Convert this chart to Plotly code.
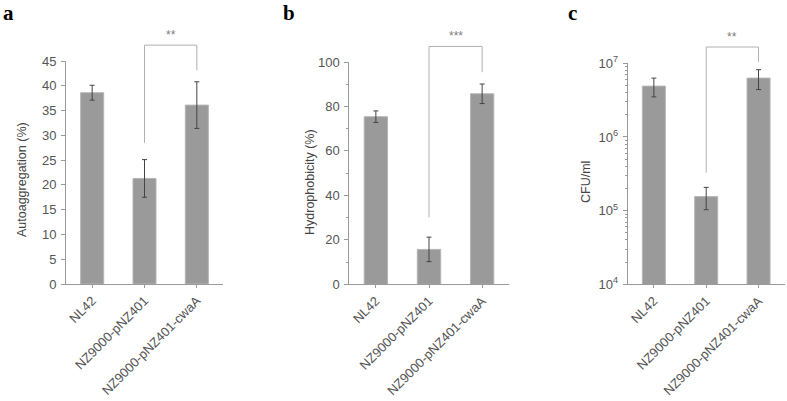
import plotly.graph_objects as go
import math

categories = ["NL42", "NZ9000-pNZ401", "NZ9000-pNZ401-cwaA"]

auto_vals = [38.6, 21.3, 36.1]
auto_err = [1.5, 3.8, 4.7]

hydro_vals = [75.4, 15.7, 85.7]
hydro_err = [2.6, 5.5, 4.4]

cfu_vals = [4.9e6, 1.55e5, 6.3e6]
cfu_err = [1.4e6, 0.52e5, 1.9e6]

auto_ticks = [0, 5, 10, 15, 20, 25, 30, 35, 40, 45]
hydro_ticks = [0, 20, 40, 60, 80, 100]
cfu_ticks = [1e4, 1e5, 1e6, 1e7]
cfu_ticklabels = ["10<sup>4</sup>", "10<sup>5</sup>", "10<sup>6</sup>", "10<sup>7</sup>"]

# significance brackets: (left cat idx, right cat idx, left leg bottom, right leg bottom, top, label)
sig_a = (1, 2, 28.5, 43.1, 48.2, "**")
sig_b = (1, 2, 30.1, 95.4, 107.0, "***")
sig_c = (1, 2, 10 ** 5.516, 10 ** 7.02, 10 ** 7.221, "**")

BAR = "#9a9a9a"
AX = "#9a9a9a"
TXT = "#555555"
FONT = "Liberation Sans, Arial, sans-serif"

fig = go.Figure()

panels = [
    dict(vals=auto_vals, err=auto_err, xd=[66 / 787, 223 / 787], yd=[(401 - 284) / 401, (401 - 61) / 401],
         ticks=auto_ticks, rng=[0, 45], log=False, title="Autoaggregation (%)", tx=22, ty=180,
         letter="a", lx=8, sig=sig_a),
    dict(vals=hydro_vals, err=hydro_err, xd=[349.3 / 787, 508.7 / 787], yd=[(401 - 284.3) / 401, (401 - 62) / 401],
         ticks=hydro_ticks, rng=[0, 100], log=False, title="Hydrophobicity (%)", tx=310, ty=182,
         letter="b", lx=289, sig=sig_b),
    dict(vals=cfu_vals, err=cfu_err, xd=[627.7 / 787, 784.7 / 787], yd=[(401 - 284.3) / 401, (401 - 63.3) / 401],
         ticks=cfu_ticks, rng=[4, 7], log=True, title="CFU/ml", tx=586, ty=182,
         letter="c", lx=572, sig=sig_c),
]

for i, p in enumerate(panels):
    n = "" if i == 0 else str(i + 1)
    fig.add_trace(go.Bar(
        x=categories, y=p["vals"], xaxis="x" + n, yaxis="y" + n,
        width=0.44, marker=dict(color=BAR, line=dict(color="#b5b5b5", width=1)),
        error_y=dict(type="data", array=p["err"], visible=True, color="#444444", thickness=1, width=2.5),
        showlegend=False, hoverinfo="skip",
    ))
    xa = dict(domain=p["xd"], anchor="y" + n, showline=True, linecolor=AX, linewidth=1,
              ticks="outside", ticklen=3, tickcolor=AX, tickangle=-45, automargin=False,
              tickfont=dict(family=FONT, size=13, color=TXT), range=[-0.5, 2.5],
              showgrid=False, zeroline=False, fixedrange=True)
    ya = dict(domain=p["yd"], anchor="x" + n, showline=True, linecolor=AX, linewidth=1,
              ticks="outside", ticklen=4, tickcolor=AX, ticklabelstandoff=2, automargin=False,
              tickfont=dict(family=FONT, size=13, color=TXT), fixedrange=True,
              showgrid=False, zeroline=False, range=p["rng"], autorange=False)
    if p["log"]:
        ya.update(type="log", tickvals=p["ticks"], ticktext=cfu_ticklabels,
                  minor=dict(tickvals=[m * 10 ** d for d in range(4, 7) for m in range(2, 10)],
                             ticks="outside", ticklen=2, tickcolor=AX))
    else:
        step = p["ticks"][1] - p["ticks"][0]
        ya.update(tickvals=p["ticks"])
        if step == 20:
            ya.update(minor=dict(tickvals=[10, 30, 50, 70, 90], ticks="outside", ticklen=2, tickcolor=AX))
    fig.update_layout(**{"xaxis" + n: xa, "yaxis" + n: ya})

    # y-axis title
    fig.add_annotation(text=p["title"], x=p["tx"] / 787, y=1 - p["ty"] / 401, xref="paper", yref="paper",
                       textangle=-90, showarrow=False, xanchor="center", yanchor="middle",
                       font=dict(family=FONT, size=12.5, color="#444444"))
    # panel letter
    fig.add_annotation(text="<b>" + p["letter"] + "</b>", x=p["lx"] / 787, y=1 - 13 / 401,
                       xref="paper", yref="paper", showarrow=False, xanchor="center", yanchor="middle",
                       font=dict(family="Liberation Serif, Times New Roman, serif", size=21, color="#000000"))

    # significance bracket
    li, ri, lb, rb, top, lab = p["sig"]
    lo, hi = p["rng"]
    if p["log"]:
        f = lambda v: (math.log10(v) - lo) / (hi - lo)
    else:
        f = lambda v: (v - lo) / (hi - lo)
    xl, xr = categories[li], categories[ri]
    fig.add_shape(type="line", xref="x" + n, yref="y" + n + " domain", x0=xl, x1=xl, y0=f(lb), y1=f(top),
                  line=dict(color="#b0b0b0", width=1))
    fig.add_shape(type="line", xref="x" + n, yref="y" + n + " domain", x0=xr, x1=xr, y0=f(rb), y1=f(top),
                  line=dict(color="#b0b0b0", width=1))
    fig.add_shape(type="line", xref="x" + n, yref="y" + n + " domain", x0=xl, x1=xr, y0=f(top), y1=f(top),
                  line=dict(color="#b0b0b0", width=1))
    fig.add_annotation(text=lab, x=(li + ri) / 2, xref="x" + n, y=f(top), yref="y" + n + " domain",
                       showarrow=False, yanchor="bottom", yshift=1,
                       font=dict(family=FONT, size=12, color="#808080"))

fig.update_layout(width=787, height=401, margin=dict(l=0, r=0, t=0, b=0, autoexpand=False),
                  plot_bgcolor="white", paper_bgcolor="white", hovermode=False)

fig.write_html("out.html", config={"displayModeBar": False, "staticPlot": True},
               post_script="document.body.style.margin='0';document.body.style.overflow='hidden';")
